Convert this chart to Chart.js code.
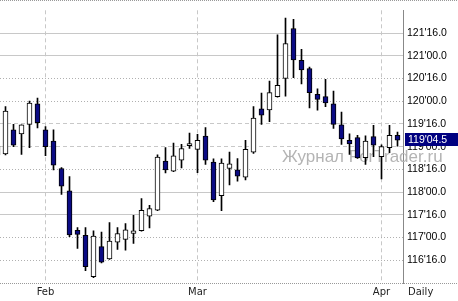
<!DOCTYPE html>
<html>
<head>
<meta charset="utf-8">
<style>
  html, body { margin: 0; padding: 0; background: #fff; }
  canvas { display: block; }
</style>
</head>
<body>
<canvas id="chart" width="458" height="301"></canvas>
<script src="https://cdn.jsdelivr.net/npm/chart.js@4/dist/chart.umd.min.js"></script>
<script>
// Daily trading sessions shown on the chart
const dates = [
  "2017-01-24", "2017-01-25", "2017-01-26", "2017-01-27", "2017-01-30", "2017-01-31",
  "2017-02-01", "2017-02-02", "2017-02-03", "2017-02-06", "2017-02-07", "2017-02-08",
  "2017-02-09", "2017-02-10", "2017-02-13", "2017-02-14", "2017-02-15", "2017-02-16",
  "2017-02-17", "2017-02-21", "2017-02-22", "2017-02-23", "2017-02-24", "2017-02-27",
  "2017-02-28",
  "2017-03-01", "2017-03-02", "2017-03-03", "2017-03-06", "2017-03-07", "2017-03-08",
  "2017-03-09", "2017-03-10", "2017-03-13", "2017-03-14", "2017-03-15", "2017-03-16",
  "2017-03-17", "2017-03-20", "2017-03-21", "2017-03-22", "2017-03-23", "2017-03-24",
  "2017-03-27", "2017-03-28", "2017-03-29", "2017-03-30", "2017-03-31",
  "2017-04-03", "2017-04-04", "2017-04-05",
];

// OHLC prices (decimal points, the axis shows them in 32nds)
const opens = [
  118.82, 118.84, 119.37, 119.28, 119.49, 119.94,
  119.37, 119.12, 118.52, 118.03, 117.16, 117.05, 116.14, 116.80, 116.53, 116.90,
  116.96, 117.09, 117.15, 117.47, 117.60, 118.68, 118.46, 118.70, 119.02,
  118.94, 119.23, 118.66, 117.92, 118.52, 118.49, 118.33, 118.88, 119.83, 119.81,
  120.10, 120.50, 121.60, 120.90, 120.72, 120.15, 120.10, 119.94, 119.48, 119.14,
  119.20, 118.76, 119.22,
  118.78, 118.98, 119.25,
];
const highs = [
  119.10, 119.88, 119.49, 119.48, 120.00, 120.07,
  119.44, 119.37, 118.54, 118.34, 117.22, 117.22, 117.15, 117.12, 117.33, 117.22,
  117.31, 117.49, 117.86, 117.71, 118.82, 118.98, 119.08, 119.05, 119.30,
  119.27, 119.42, 118.73, 118.73, 118.88, 118.74, 119.14, 119.88, 120.18, 120.44,
  121.46, 121.83, 121.80, 121.14, 120.75, 120.27, 120.48, 120.22, 119.76, 119.28,
  119.25, 119.24, 119.47,
  119.04, 119.47, 119.32,
];
const lows = [
  118.70, 118.82, 119.00, 118.83, 118.98, 119.41,
  118.80, 118.49, 117.95, 117.02, 116.76, 116.27, 116.12, 116.44, 116.52, 116.74,
  116.72, 116.87, 117.14, 117.21, 117.59, 118.42, 118.45, 118.53, 118.96,
  118.43, 118.61, 117.79, 117.59, 118.16, 118.24, 118.27, 118.85, 119.49, 119.55,
  120.09, 120.11, 120.52, 120.38, 119.85, 119.80, 119.88, 119.40, 119.05, 118.83,
  118.74, 118.61, 118.78,
  118.29, 118.87, 119.01,
];
const closes = [
  119.01, 119.78, 119.03, 119.48, 119.96, 119.53,
  119.00, 118.59, 118.13, 117.06, 117.07, 116.36, 117.03, 116.46, 116.92, 117.09,
  117.17, 117.15, 117.60, 117.64, 118.77, 118.49, 118.80, 118.96, 119.07,
  119.14, 118.70, 117.83, 118.64, 118.62, 118.35, 118.94, 119.63, 119.69, 120.19,
  120.35, 121.27, 120.91, 120.69, 120.19, 120.04, 119.96, 119.49, 119.17, 119.06,
  118.75, 119.12, 119.03,
  119.00, 119.25, 119.140625,
];

// Axis labels
const monthKeys = ["2017-02", "2017-03", "2017-04"];
const monthLabels = ["Feb", "Mar", "Apr"];
const priceTicks = [116.5, 117, 117.5, 118, 118.5, 119, 119.5, 120, 120.5, 121, 121.5];
const priceTickLabels = [
  "116'16.0", "117'00.0", "117'16.0", "118'00.0", "118'16.0", "119'00.0",
  "119'16.0", "120'00.0", "120'16.0", "121'00.0", "121'16.0",
];
const lastPriceLabel = "119'04.5";

const monthTicks = monthKeys.map((m) => dates.findIndex((d) => d.startsWith(m)));

// line style of each horizontal grid line, same order as priceTicks
const priceGridStyle = [
  "dotted", "dotted", "solid", "solid", "dotted", "dashed",
  "dashed", "dotted", "dotted", "solid", "solid",
];
const dashes = { solid: [], dotted: [1, 2], dashed: [4, 3] };

const NAVY = "#0b0b84";
const labelFont = { family: "'Liberation Sans', Arial, sans-serif", size: 10.5 };
const dateFont = { family: "'DejaVu Sans', sans-serif", size: 10 };

function priceIndex(value) {
  return priceTicks.findIndex((t) => Math.abs(t - value) < 1e-6);
}

const bodies = opens.map((o, i) => ({ x: i, y: [o, closes[i]] }));
const wicks = lows.map((l, i) => ({ x: i, y: [l, highs[i]] }));

// watermark, frame lines, "Daily" caption and the last price marker
const decor = {
  id: "decor",
  beforeDatasetsDraw(chart) {
    const { ctx } = chart;
    ctx.save();
    ctx.font = "17px 'Liberation Sans', Arial, sans-serif";
    ctx.fillStyle = "#b4b4b4";
    ctx.textBaseline = "alphabetic";
    ctx.fillText("Журнал ForTrader.ru", 282, 162);
    ctx.restore();
  },
  afterDraw(chart) {
    const { ctx, chartArea, width } = chart;
    ctx.save();
    ctx.strokeStyle = "#999";
    ctx.lineWidth = 1;
    ctx.setLineDash([1, 1]);
    ctx.beginPath();
    ctx.moveTo(0, 0.5);
    ctx.lineTo(width, 0.5);
    ctx.moveTo(0, chartArea.bottom + 0.5);
    ctx.lineTo(width, chartArea.bottom + 0.5);
    ctx.stroke();
    ctx.setLineDash([]);

    ctx.fillStyle = "#222";
    ctx.font = "10px 'DejaVu Sans', sans-serif";
    ctx.textBaseline = "middle";
    ctx.fillText("Daily", chartArea.right + 5, chartArea.bottom + 9.5);

    const y = Math.round(chart.scales.y.getPixelForValue(closes[closes.length - 1]));
    ctx.fillStyle = "#000080";
    ctx.fillRect(chartArea.right + 2, y - 7, width - chartArea.right - 2, 13);
    ctx.fillStyle = "#fff";
    ctx.font = "10.5px 'Liberation Sans', Arial, sans-serif";
    ctx.fillText(lastPriceLabel, chartArea.right + 5, y);
    ctx.restore();
  },
};

new Chart(document.getElementById("chart"), {
  type: "bar",
  data: {
    datasets: [
      {
        data: bodies,
        order: 1,
        grouped: false,
        barThickness: 5,
        borderWidth: 1,
        borderSkipped: false,
        borderColor: "#000",
        backgroundColor: (ctx) =>
          closes[ctx.dataIndex] < opens[ctx.dataIndex] ? NAVY : "#fff",
      },
      {
        data: wicks,
        order: 2,
        grouped: false,
        barThickness: 1,
        borderWidth: 0,
        backgroundColor: "#000",
      },
    ],
  },
  options: {
    responsive: false,
    animation: false,
    layout: { padding: 0 },
    plugins: {
      legend: { display: false },
      tooltip: { enabled: false },
    },
    scales: {
      x: {
        type: "linear",
        offset: false,
        min: 0.3125,
        max: 50.6875,
        afterBuildTicks: (scale) => {
          scale.ticks = monthTicks.map((v) => ({ value: v }));
        },
        afterFit: (scale) => {
          scale.height = 18;
        },
        ticks: {
          autoSkip: false,
          maxRotation: 0,
          padding: 3,
          color: "#222",
          font: dateFont,
          callback: (value) => monthLabels[monthTicks.indexOf(value)],
        },
        grid: { offset: false, color: "#c8c8c8", drawTicks: false },
        border: { display: false, dash: [4, 3] },
      },
      y: {
        position: "right",
        min: 116,
        max: 122,
        afterFit: (scale) => {
          scale.width = 55;
        },
        ticks: {
          stepSize: 0.5,
          padding: 4,
          color: "#000",
          font: labelFont,
          callback: (value) => {
            const k = priceIndex(value);
            return k < 0 ? null : priceTickLabels[k];
          },
        },
        grid: {
          drawTicks: false,
          color: (ctx) => {
            const k = ctx.tick ? priceIndex(ctx.tick.value) : -1;
            return k >= 0 && priceGridStyle[k] === "dotted" ? "#b0b0b0" : "#c8c8c8";
          },
        },
        border: {
          color: "#888",
          dash: (ctx) => {
            const k = ctx.tick ? priceIndex(ctx.tick.value) : -1;
            return k >= 0 ? dashes[priceGridStyle[k]] : [];
          },
        },
      },
    },
  },
  plugins: [decor],
});
</script>
</body>
</html>
